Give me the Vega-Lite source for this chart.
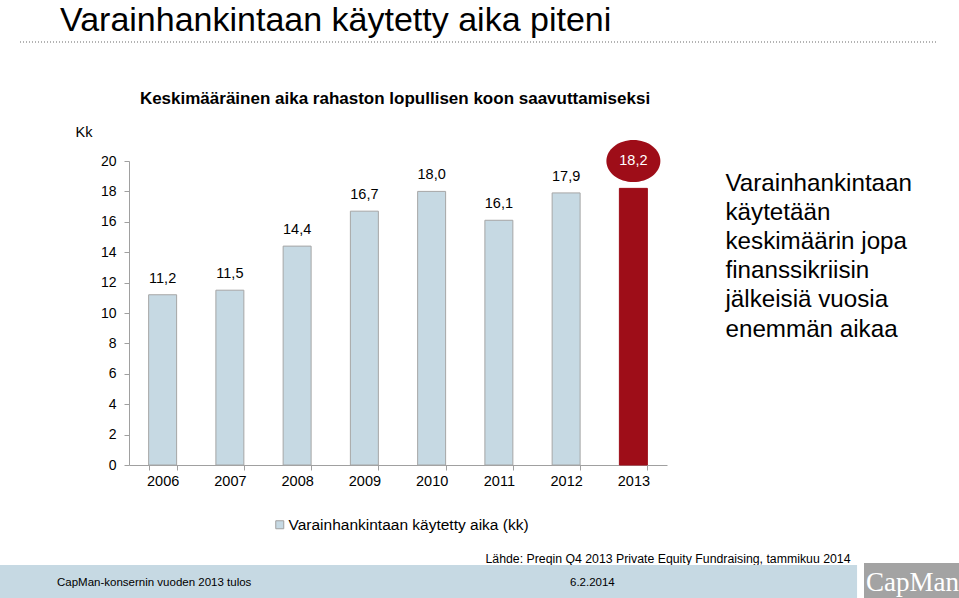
{
  "$schema": "https://vega.github.io/schema/vega-lite/v6.json",
  "width": 538,
  "height": 304,
  "autosize": {"type": "none"},
  "padding": {"left": 129, "top": 161, "right": 292, "bottom": 133},
  "background": "white",
  "config": {
    "font": "Liberation Sans",
    "view": {"stroke": null},
    "axis": {"grid": false, "labelColor": "#000", "titleColor": "#000", "labelFont": "Liberation Sans", "titleFont": "Liberation Sans"},
    "locale": {"number": {"decimal": ",", "thousands": "\u00a0", "grouping": [3], "currency": ["", "\u00a0€"]}}
  },
  "title": {
    "text": "Varainhankintaan käytetty aika piteni",
    "anchor": "start",
    "frame": "group",
    "fontSize": 34,
    "fontWeight": "normal",
    "font": "Liberation Sans",
    "color": "#000",
    "dx": -69,
    "offset": 3
  },
  "data": {
    "values": [
      {"year": "2006", "value": 11.2, "series": "Varainhankintaan käytetty aika (kk)"},
      {"year": "2007", "value": 11.5, "series": "Varainhankintaan käytetty aika (kk)"},
      {"year": "2008", "value": 14.4, "series": "Varainhankintaan käytetty aika (kk)"},
      {"year": "2009", "value": 16.7, "series": "Varainhankintaan käytetty aika (kk)"},
      {"year": "2010", "value": 18.0, "series": "Varainhankintaan käytetty aika (kk)"},
      {"year": "2011", "value": 16.1, "series": "Varainhankintaan käytetty aika (kk)"},
      {"year": "2012", "value": 17.9, "series": "Varainhankintaan käytetty aika (kk)"},
      {"year": "2013", "value": 18.2, "series": "Varainhankintaan käytetty aika (kk)"}
    ]
  },
  "resolve": {"scale": {"x": "independent", "y": "independent"}, "axis": {"x": "independent", "y": "independent"}},
  "layer": [
    {
      "resolve": {"axis": {"x": "independent", "y": "independent"}},
      "layer": [
        {
          "mark": {"type": "bar", "strokeWidth": 1},
          "encoding": {
            "x": {
              "field": "year", "type": "nominal", "sort": null,
              "scale": {"paddingInner": 0.584, "paddingOuter": 0.292},
              "axis": {
                "orient": "bottom", "title": "Lähde: Preqin Q4 2013 Private Equity Fundraising, tammikuu 2014",
                "tickBand": "extent", "labelAngle": 0, "labelFontSize": 14.5, "tickSize": 5,
                "domainColor": "#a0a0a0", "tickColor": "#a0a0a0", "labelPadding": 4,
                "titleX": 721, "titleY": 97, "titleAlign": "right", "titleBaseline": "alphabetic",
                "titleFontSize": 12.3, "titleFontWeight": "normal"
              }
            },
            "y": {
              "field": "value", "type": "quantitative",
              "scale": {"domain": [0, 20], "nice": false},
              "axis": {
                "values": [0, 2, 4, 6, 8, 10, 12, 14, 16, 18, 20], "labelFontSize": 14, "tickSize": 5,
                "labelPadding": 8, "domainColor": "#a0a0a0", "tickColor": "#a0a0a0",
                "title": "Kk", "titleAngle": 0, "titleAlign": "left", "titleBaseline": "alphabetic",
                "titleX": -54, "titleY": -25, "titleFontSize": 14.5, "titleFontWeight": "normal"
              }
            },
            "color": {
              "field": "series", "type": "nominal",
              "condition": {"test": "datum.year === '2013'", "value": "#9e0d18"},
              "scale": {"range": ["#c6d9e3"]},
              "legend": {
                "title": null, "orient": "none", "legendX": 143, "legendY": 356,
                "symbolType": "square", "symbolSize": 64, "symbolStrokeColor": "#a0a0a0",
                "symbolStrokeWidth": 1, "labelFontSize": 15.5, "labelOffset": 1, "padding": 0,
                "labelColor": "#000", "labelLimit": 400
              }
            },
            "stroke": {"condition": {"test": "datum.year === '2013'", "value": "#9e0d18"}, "value": "#a6a6a6"}
          }
        },
        {
          "transform": [{"filter": "datum.year !== '2013'"}],
          "mark": {"type": "text", "fontSize": 14.5, "dy": -12, "baseline": "alphabetic", "color": "#000"},
          "encoding": {
            "x": {
              "field": "year", "type": "nominal", "sort": null,
              "axis": {
                "orient": "top", "labels": false, "ticks": false, "domain": false,
                "title": "Keskimääräinen aika rahaston lopullisen koon saavuttamiseksi",
                "titleX": 265.5, "titleY": -58, "titleAlign": "center", "titleBaseline": "alphabetic",
                "titleFontSize": 17, "titleFontWeight": "bold"
              }
            },
            "y": {
              "field": "value", "type": "quantitative",
              "axis": {
                "orient": "right", "labels": false, "ticks": false, "domain": false,
                "title": ["Varainhankintaan", "käytetään", "keskimäärin jopa", "finanssikriisin", "jälkeisiä vuosia", "enemmän aikaa"],
                "titleAngle": 0, "titleX": 58, "titleY": 29, "titleAlign": "left", "titleBaseline": "alphabetic",
                "titleFontSize": 24.2, "titleFontWeight": "normal", "titleLineHeight": 29.2
              }
            },
            "text": {"field": "value", "type": "quantitative", "format": ".1f"}
          }
        },
        {
          "transform": [{"filter": "datum.year === '2013'"}],
          "mark": {"type": "point", "shape": "M-1,0A1,0.78 0 1,0 1,0A1,0.78 0 1,0 -1,0Z", "filled": true, "size": 2916, "color": "#9e0d18", "opacity": 1},
          "encoding": {
            "x": {"field": "year", "type": "nominal", "sort": null, "axis": null},
            "y": {"datum": 20, "type": "quantitative", "axis": null}
          }
        },
        {
          "transform": [{"filter": "datum.year === '2013'"}],
          "mark": {"type": "text", "fontSize": 14.5, "baseline": "middle", "color": "#ffffff"},
          "encoding": {
            "x": {"field": "year", "type": "nominal", "sort": null, "axis": null},
            "y": {"datum": 20, "type": "quantitative", "axis": null},
            "text": {"field": "value", "type": "quantitative", "format": ".1f"}
          }
        }
      ]
    },
    {
      "data": {"values": [{}]},
      "layer": [
        {
          "mark": {"type": "rect", "color": "#c6d9e3"},
          "encoding": {
            "x": {"datum": 0, "type": "quantitative", "scale": {"domain": [0.134515, 0.695516], "nice": false, "zero": false}, "axis": null},
            "x2": {"datum": 0.8937},
            "y": {"datum": 0.94482, "type": "quantitative", "scale": {"domain": [0.269231, 0.777592], "reverse": true, "nice": false, "zero": false}, "axis": null},
            "y2": {"datum": 1}
          }
        },
        {
          "mark": {"type": "rect", "color": "#a3a3a3"},
          "encoding": {
            "x": {"datum": 0.90094, "type": "quantitative", "scale": {"domain": [0.134515, 0.695516], "nice": false, "zero": false}, "axis": null},
            "x2": {"datum": 1},
            "y": {"datum": 0.94147, "type": "quantitative", "scale": {"domain": [0.269231, 0.777592], "reverse": true, "nice": false, "zero": false}, "axis": null},
            "y2": {"datum": 1}
          }
        },
        {
          "mark": {"type": "rule", "color": "#9a9a9a", "strokeDash": [1, 2], "strokeWidth": 1.5},
          "encoding": {
            "x": {"datum": 0.02086, "type": "quantitative", "scale": {"domain": [0.134515, 0.695516], "nice": false, "zero": false}, "axis": null},
            "x2": {"datum": 0.9781},
            "y": {"datum": 0.07023, "type": "quantitative", "scale": {"domain": [0.269231, 0.777592], "reverse": true, "nice": false, "zero": false}, "axis": null}
          }
        },
        {
          "mark": {"type": "text", "fontSize": 11.5, "align": "left", "baseline": "alphabetic", "color": "#000", "text": "CapMan-konsernin vuoden 2013 tulos"},
          "encoding": {
            "x": {"datum": 0.05944, "type": "quantitative", "scale": {"domain": [0.134515, 0.695516], "nice": false, "zero": false}, "axis": null},
            "y": {"datum": 0.97993, "type": "quantitative", "scale": {"domain": [0.269231, 0.777592], "reverse": true, "nice": false, "zero": false}, "axis": null}
          }
        },
        {
          "mark": {"type": "text", "fontSize": 11.5, "align": "left", "baseline": "alphabetic", "color": "#000", "text": "6.2.2014"},
          "encoding": {
            "x": {"datum": 0.59437, "type": "quantitative", "scale": {"domain": [0.134515, 0.695516], "nice": false, "zero": false}, "axis": null},
            "y": {"datum": 0.97993, "type": "quantitative", "scale": {"domain": [0.269231, 0.777592], "reverse": true, "nice": false, "zero": false}, "axis": null}
          }
        },
        {
          "mark": {"type": "text", "fontSize": 27, "font": "Liberation Serif", "align": "center", "baseline": "alphabetic", "color": "#ffffff", "text": "CapMan"},
          "encoding": {
            "x": {"datum": 0.95151, "type": "quantitative", "scale": {"domain": [0.134515, 0.695516], "nice": false, "zero": false}, "axis": null},
            "y": {"datum": 0.98829, "type": "quantitative", "scale": {"domain": [0.269231, 0.777592], "reverse": true, "nice": false, "zero": false}, "axis": null}
          }
        }
      ]
    }
  ]
}
